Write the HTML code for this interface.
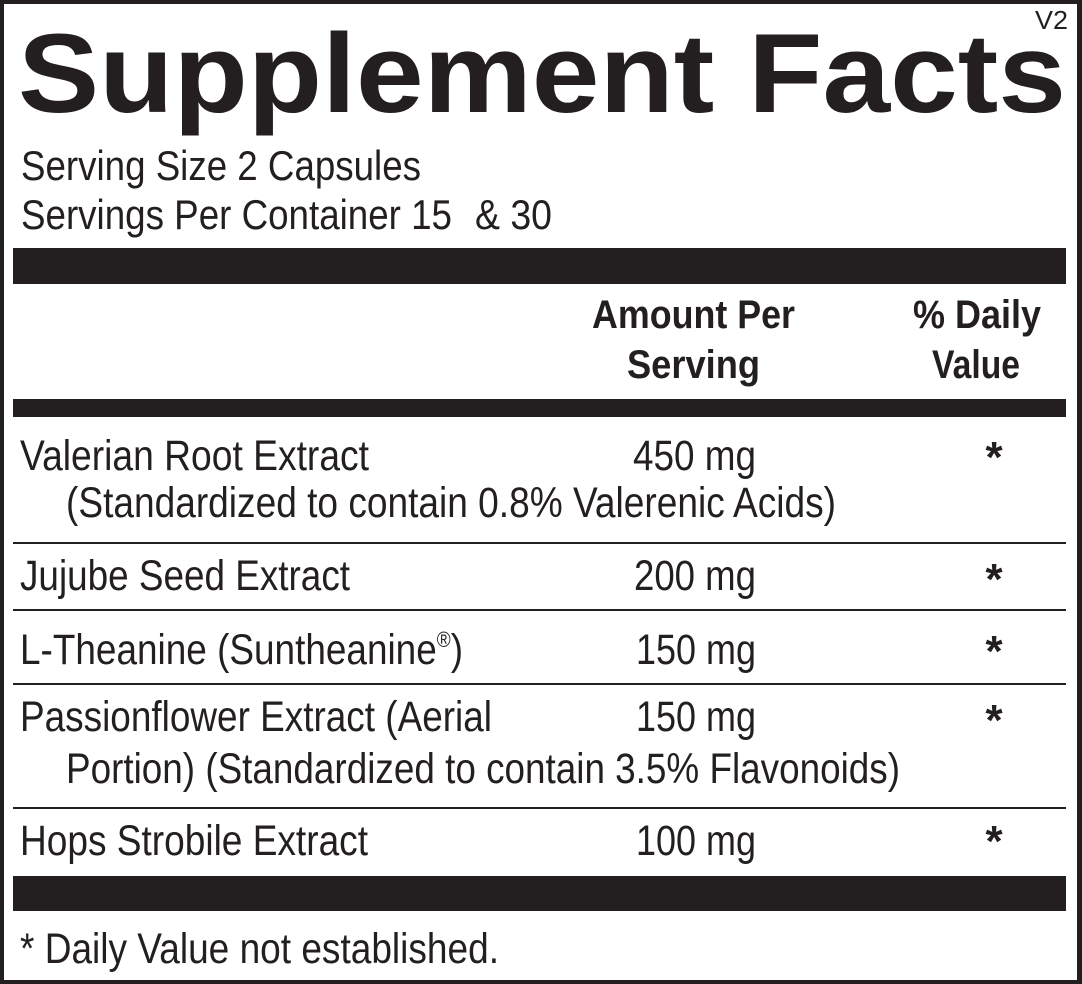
<!DOCTYPE html>
<html>
<head>
<meta charset="utf-8">
<style>
  html, body { margin: 0; padding: 0; background: #fff; }
  svg { display: block; }
  text { font-family: "Liberation Sans", Arial, sans-serif; fill: #231f20; }
  .b { font-weight: bold; }
</style>
</head>
<body>
<svg width="1082" height="984" viewBox="0 0 1082 984" xmlns="http://www.w3.org/2000/svg">
  <rect x="0" y="0" width="1082" height="984" fill="#ffffff"/>
  <!-- outer border -->
  <rect x="2" y="2" width="1077" height="980" fill="none" stroke="#231f20" stroke-width="4"/>
  <rect x="1077" y="0" width="5" height="984" fill="#231f20"/>

  <!-- Title -->
  <text class="b" x="18" y="112" font-size="112" textLength="1048" lengthAdjust="spacingAndGlyphs">Supplement Facts</text>
  <text x="1035" y="29" font-size="26" textLength="33" lengthAdjust="spacingAndGlyphs">V2</text>

  <!-- Serving info -->
  <text x="21" y="180" font-size="42" textLength="400" lengthAdjust="spacingAndGlyphs">Serving Size 2 Capsules</text>
  <text x="21" y="229" font-size="42" textLength="431" lengthAdjust="spacingAndGlyphs">Servings Per Container 15</text>
  <text x="475" y="229" font-size="42" textLength="77" lengthAdjust="spacingAndGlyphs">&amp; 30</text>

  <!-- Bars -->
  <rect x="13" y="248" width="1053" height="36" fill="#231f20"/>
  <rect x="13" y="399" width="1053" height="18" fill="#231f20"/>
  <rect x="13" y="876" width="1053" height="35" fill="#231f20"/>

  <!-- Thin lines -->
  <rect x="13" y="542" width="1053" height="2" fill="#231f20"/>
  <rect x="13" y="609" width="1053" height="2" fill="#231f20"/>
  <rect x="13" y="683" width="1053" height="2" fill="#231f20"/>
  <rect x="13" y="807" width="1053" height="2" fill="#231f20"/>

  <!-- Header -->
  <text class="b" x="592" y="328" font-size="40" textLength="203" lengthAdjust="spacingAndGlyphs">Amount Per</text>
  <text class="b" x="627" y="378" font-size="40" textLength="133" lengthAdjust="spacingAndGlyphs">Serving</text>
  <text class="b" x="913" y="328" font-size="40" textLength="128" lengthAdjust="spacingAndGlyphs">% Daily</text>
  <text class="b" x="932" y="378" font-size="40" textLength="88" lengthAdjust="spacingAndGlyphs">Value</text>

  <!-- Row 1 -->
  <text x="20" y="470" font-size="43" textLength="349" lengthAdjust="spacingAndGlyphs">Valerian Root Extract</text>
  <text x="66" y="517" font-size="43" textLength="770" lengthAdjust="spacingAndGlyphs">(Standardized to contain 0.8% Valerenic Acids)</text>
  <text x="633" y="470" font-size="43" textLength="123" lengthAdjust="spacingAndGlyphs">450 mg</text>
  <text class="b" x="994" y="472" font-size="44" text-anchor="middle">*</text>

  <!-- Row 2 -->
  <text x="20" y="590" font-size="43" textLength="330" lengthAdjust="spacingAndGlyphs">Jujube Seed Extract</text>
  <text x="634" y="590" font-size="43" textLength="122" lengthAdjust="spacingAndGlyphs">200 mg</text>
  <text class="b" x="994" y="594" font-size="44" text-anchor="middle">*</text>

  <!-- Row 3 -->
  <text x="20" y="664" font-size="43" textLength="443" lengthAdjust="spacingAndGlyphs">L-Theanine (Suntheanine<tspan font-size="22" dy="-17">®</tspan><tspan dy="17">)</tspan></text>
  <text x="636" y="664" font-size="43" textLength="120" lengthAdjust="spacingAndGlyphs">150 mg</text>
  <text class="b" x="994" y="666" font-size="44" text-anchor="middle">*</text>

  <!-- Row 4 -->
  <text x="20" y="731" font-size="43" textLength="472" lengthAdjust="spacingAndGlyphs">Passionflower Extract (Aerial</text>
  <text x="66" y="783" font-size="43" textLength="834" lengthAdjust="spacingAndGlyphs">Portion) (Standardized to contain 3.5% Flavonoids)</text>
  <text x="636" y="731" font-size="43" textLength="120" lengthAdjust="spacingAndGlyphs">150 mg</text>
  <text class="b" x="994" y="735" font-size="44" text-anchor="middle">*</text>

  <!-- Row 5 -->
  <text x="20" y="855" font-size="43" textLength="348" lengthAdjust="spacingAndGlyphs">Hops Strobile Extract</text>
  <text x="636" y="855" font-size="43" textLength="120" lengthAdjust="spacingAndGlyphs">100 mg</text>
  <text class="b" x="994" y="856" font-size="44" text-anchor="middle">*</text>

  <!-- Footer -->
  <text x="20" y="963" font-size="43" textLength="479" lengthAdjust="spacingAndGlyphs">* Daily Value not established.</text>
</svg>
</body>
</html>
